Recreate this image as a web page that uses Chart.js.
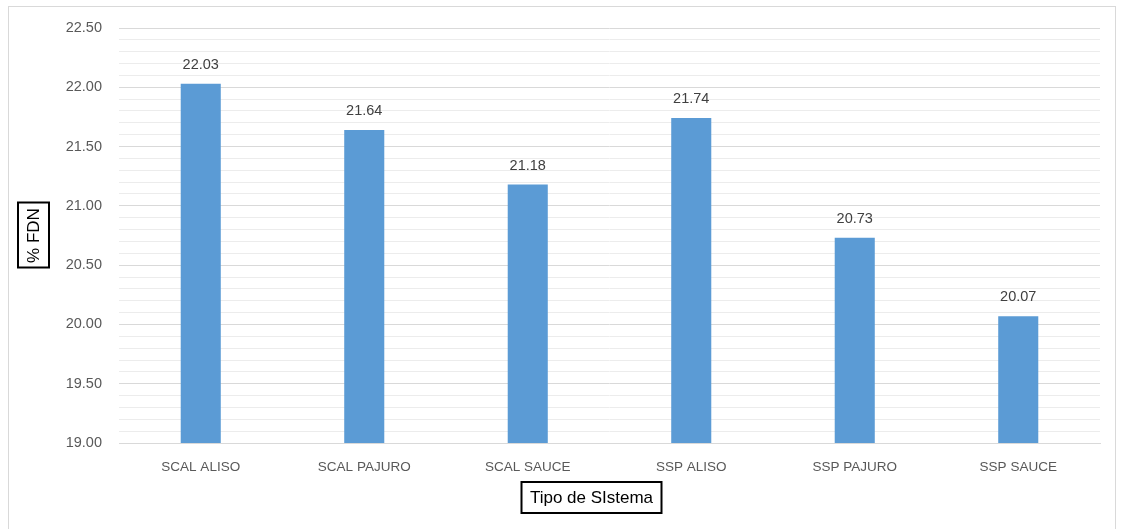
<!DOCTYPE html>
<html>
<head>
<meta charset="utf-8">
<script src="https://cdn.jsdelivr.net/npm/chart.js@4/dist/chart.umd.min.js"></script>
<style>
  html, body { margin: 0; padding: 0; background: #fff; overflow: hidden; }
  #frame { position: absolute; left: 8px; top: 6px; width: 1108px; height: 540px; border: 1px solid #d9d9d9; box-sizing: border-box; }
  #wrap { position: absolute; left: 0; top: 0; width: 1122px; height: 529px; }
</style>
</head>
<body>
<div id="frame"></div>
<div id="wrap"><canvas id="fdnChart"></canvas></div>
<script>
const sistemas = ['SCAL ALISO', 'SCAL PAJURO', 'SCAL SAUCE', 'SSP ALISO', 'SSP PAJURO', 'SSP SAUCE'];
const fdn = [22.03, 21.64, 21.18, 21.74, 20.73, 20.07];
const yMin = 19.0, yMax = 22.5, yStep = 0.1;

const FONT = '"Liberation Sans", Arial, sans-serif';
const isMajor = v => Math.round(v * 10) % 5 === 0;

// value labels above each bar
const barValues = {
  id: 'barValues',
  afterDatasetsDraw(chart) {
    const { ctx } = chart;
    const meta = chart.getDatasetMeta(0);
    ctx.save();
    ctx.font = '14.5px ' + FONT;
    ctx.fillStyle = '#404040';
    ctx.textAlign = 'center';
    ctx.textBaseline = 'middle';
    meta.data.forEach((bar, i) => {
      ctx.fillText(fdn[i].toFixed(2), bar.x, bar.y - 19);
    });
    ctx.restore();
  }
};

// boxed axis titles
const boxedTitles = {
  id: 'boxedTitles',
  afterDraw(chart) {
    const { ctx, chartArea } = chart;
    ctx.save();
    ctx.strokeStyle = '#000';
    ctx.lineWidth = 2;
    ctx.fillStyle = '#000';
    ctx.textAlign = 'center';
    ctx.textBaseline = 'middle';

    // y title
    const cy = (chartArea.top + chartArea.bottom) / 2;
    ctx.strokeRect(18, cy - 33, 31, 65);
    ctx.save();
    ctx.translate(34, cy);
    ctx.rotate(-Math.PI / 2);
    ctx.font = '17px ' + FONT;
    ctx.fillText('% FDN', 0, 0);
    ctx.restore();

    // x title
    const cx = (chartArea.left + chartArea.right) / 2 - 18;
    ctx.strokeRect(cx - 70, 482, 140, 31);
    ctx.font = '17px ' + FONT;
    ctx.fillText('Tipo de SIstema', cx, 498);
    ctx.restore();
  }
};

new Chart(document.getElementById('fdnChart'), {
  type: 'bar',
  data: {
    labels: sistemas,
    datasets: [{
      data: fdn,
      backgroundColor: '#5b9bd5',
      categoryPercentage: 1,
      barPercentage: 0.245
    }]
  },
  options: {
    responsive: true,
    maintainAspectRatio: false,
    animation: false,
    layout: { padding: { top: 28, right: 22, bottom: 0, left: 0 } },
    plugins: { legend: { display: false }, tooltip: { enabled: false } },
    scales: {
      x: {
        grid: { display: false, drawTicks: false },
        border: { color: '#d9d9d9', width: 1 },
        ticks: { color: '#595959', font: { family: FONT, size: 13.5 }, padding: 16 },
        afterFit(s) { s.height = 86; }
      },
      y: {
        min: yMin,
        max: yMax,
        ticks: {
          stepSize: yStep,
          autoSkip: false,
          color: '#595959',
          font: { family: FONT, size: 14.5 },
          padding: 17,
          callback: v => isMajor(v) ? v.toFixed(2) : ''
        },
        grid: {
          drawTicks: false,
          color: c => isMajor(c.tick.value) ? '#d9d9d9' : '#ececec',
          lineWidth: 1
        },
        border: { display: false },
        afterFit(s) { s.width = 119; }
      }
    }
  },
  plugins: [barValues, boxedTitles]
});
</script>
</body>
</html>
